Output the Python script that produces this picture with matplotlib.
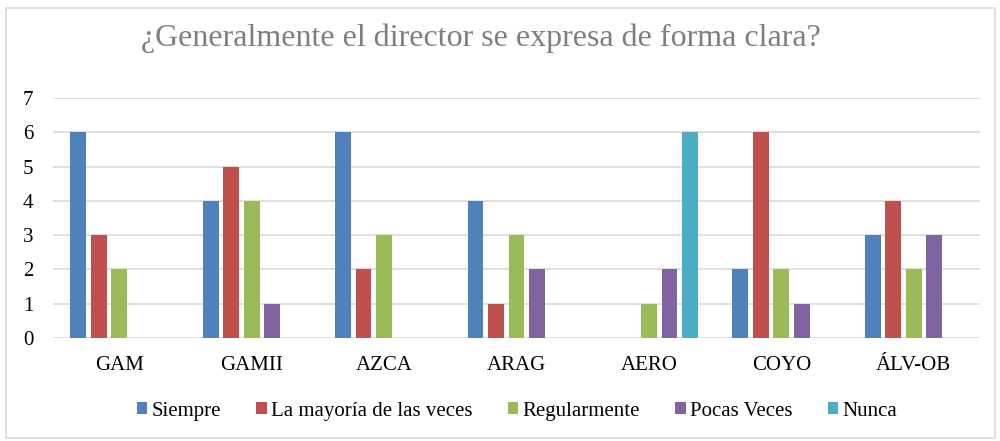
import numpy as np
import matplotlib
matplotlib.use("Agg")
import matplotlib.pyplot as plt
from matplotlib.patches import Rectangle

plt.rcParams['font.family'] = ['Liberation Serif', 'DejaVu Serif']

categories = ["GAM", "GAMII", "AZCA", "ARAG", "AERO", "COYO", "ÁLV-OB"]
series_names = ["Siempre", "La mayoría de las veces", "Regularmente", "Pocas Veces", "Nunca"]
siempre = [6, 4, 6, 4, 0, 2, 3]
mayoria = [3, 5, 2, 1, 0, 6, 4]
regular = [2, 4, 3, 3, 1, 2, 2]
pocas = [0, 1, 0, 2, 2, 1, 3]
nunca = [0, 0, 0, 0, 6, 0, 0]
colors = ["#4F81BD", "#C0504D", "#9BBB59", "#8064A2", "#4BACC6"]

fig = plt.figure(figsize=(10, 4.41), dpi=100)
ax = fig.add_axes([0.053, 0.2336, 0.927, 0.5442])

# chart border
fig.patches.append(Rectangle((0.006, 0.007), 0.989, 0.975, transform=fig.transFigure,
                             fill=False, edgecolor="#D9D9D9", linewidth=1.2))

x = np.arange(len(categories))
step = 0.155
width = 0.12
for i, (vals, name) in enumerate(zip([siempre, mayoria, regular, pocas, nunca], series_names)):
    ax.bar(x + (i - 2) * step, vals, width, color=colors[i], label=name, zorder=3)

ax.set_xlim(-0.5, len(categories) - 0.5)
ax.set_ylim(0, 7)
ax.set_yticks(range(0, 8))
ax.set_xticks(x)
ax.set_xticklabels(categories)
ax.tick_params(axis='both', length=0, labelsize=15)
ax.tick_params(axis='x', pad=13)
ax.tick_params(axis='y', pad=14)
ax.grid(axis='y', color="#D9D9D9", linewidth=1.2, zorder=0)
for s in ax.spines.values():
    s.set_visible(False)

fig.text(0.481, 0.913, "¿Generalmente el director se expresa de forma clara?",
         ha='center', va='center', fontsize=23, color="#7F7F7F")

leg = fig.legend(loc='center', bbox_to_anchor=(0.517, 0.068), ncol=5, frameon=False,
                 fontsize=15, handlelength=0.5, handleheight=0.5, handletextpad=0.2,
                 columnspacing=1.7)

fig.savefig("out.png", dpi=100)
